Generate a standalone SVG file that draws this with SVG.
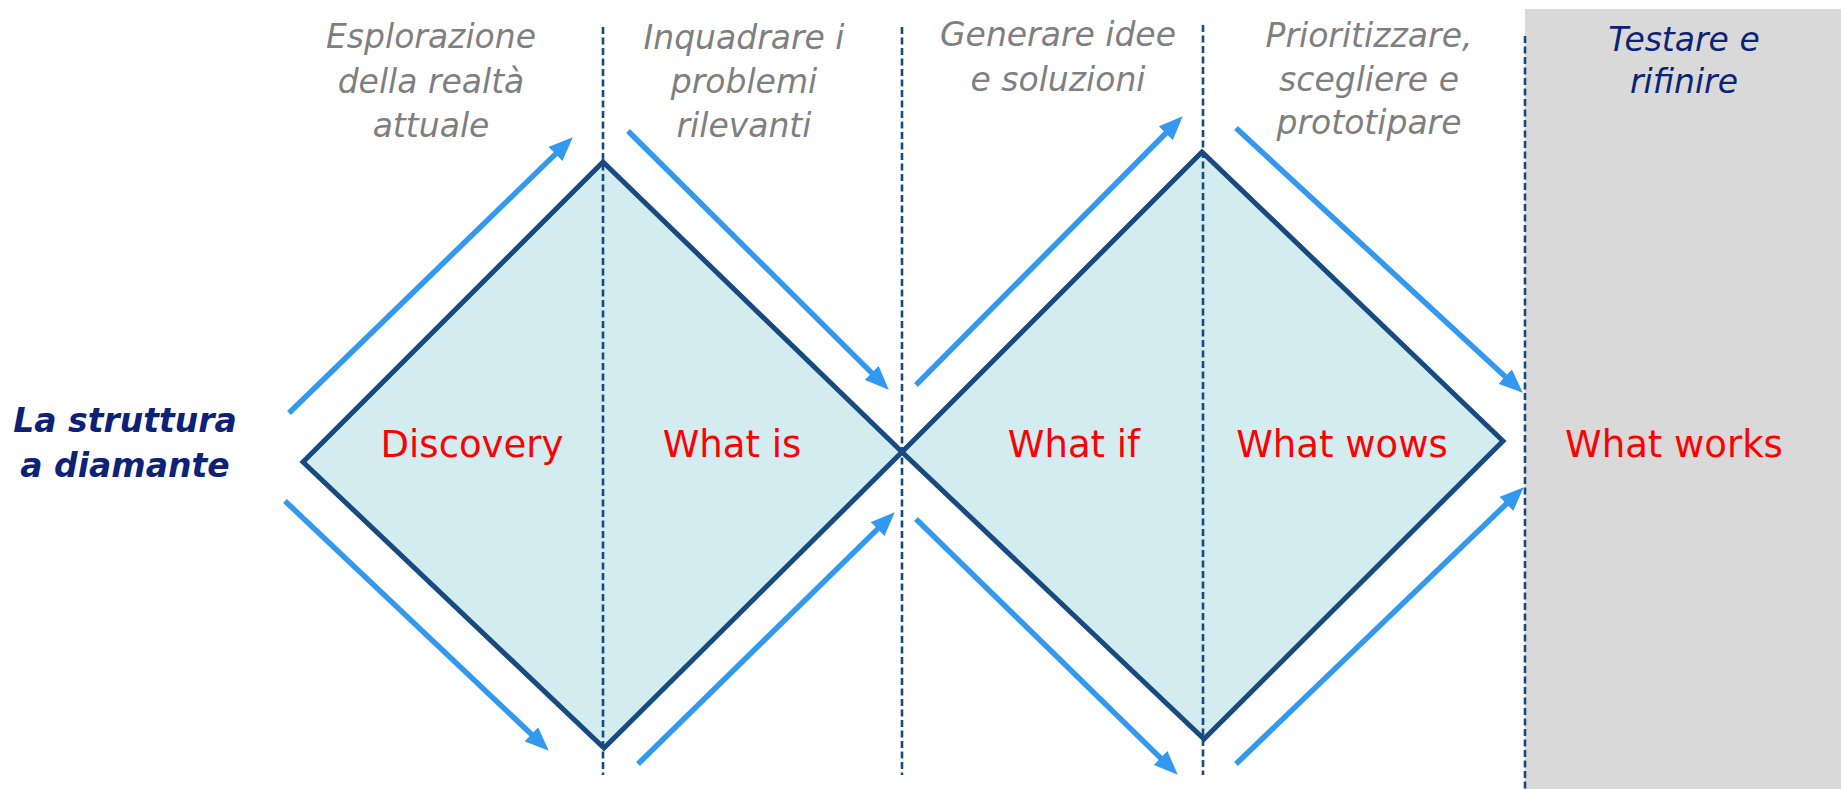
<svg xmlns="http://www.w3.org/2000/svg" width="1841" height="789" viewBox="0 0 1841 789">
<style>
.step{font-family:"DejaVu Sans",Verdana,sans-serif;font-style:italic;font-size:33px;fill:#7f7f7f;text-anchor:middle}
.test{font-family:"DejaVu Sans",Verdana,sans-serif;font-style:italic;font-size:33px;fill:#0c2277;text-anchor:middle}
.title{font-family:"DejaVu Sans",Verdana,sans-serif;font-style:italic;font-weight:bold;font-size:33px;fill:#0c2277;text-anchor:middle}
.lbl{font-family:"DejaVu Sans",Verdana,sans-serif;font-size:37px;fill:#ff0000;text-anchor:middle}
.dia{fill:#d3ecf0;stroke:#174a7e;stroke-width:5;stroke-linejoin:miter}
.dash{stroke:#174a7e;stroke-width:2.6;stroke-dasharray:7 3.5;fill:none}
.arr{stroke:#3399ee;stroke-width:5.5;fill:none;marker-end:url(#ah)}
</style>
<defs>
<marker id="ah" markerUnits="userSpaceOnUse" markerWidth="24" markerHeight="20" refX="10" refY="9" orient="auto" viewBox="0 0 22 18">
<path d="M0,0 L22,9 L0,18 z" fill="#3399ee"/>
</marker>
</defs>
<rect x="0" y="0" width="1841" height="789" fill="#ffffff"/>
<rect id="test-area" x="1525" y="9" width="316" height="780" fill="#d9d9d9"/>
<g id="diamond-1">
<polygon class="dia" points="303,462 603,162 902,452 604,748"/>
</g>
<g id="diamond-2">
<polygon class="dia" points="902,452 1202,152 1503,441 1204,739"/>
</g>
<g id="dividers">
<line class="dash" x1="603" y1="27" x2="603" y2="775"/>
<line class="dash" x1="902" y1="27" x2="902" y2="775"/>
<line class="dash" x1="1203" y1="25" x2="1203" y2="775"/>
<line class="dash" x1="1525" y1="36" x2="1525" y2="789"/>
</g>
<g id="connectors">
<line class="arr" x1="289" y1="413" x2="563.4" y2="146.4"/>
<line class="arr" x1="285" y1="501" x2="539.3" y2="741.8"/>
<line class="arr" x1="628" y1="131" x2="879.5" y2="380.6"/>
<line class="arr" x1="638" y1="764" x2="885.4" y2="521.4"/>
<line class="arr" x1="916" y1="385" x2="1173.5" y2="125.5"/>
<line class="arr" x1="916" y1="519" x2="1168.4" y2="765.6"/>
<line class="arr" x1="1236" y1="128" x2="1513.2" y2="383.9"/>
<line class="arr" x1="1236" y1="764" x2="1514.3" y2="496.3"/>
</g>
<g id="title">
<text class="title" x="125" y="432">La struttura</text>
<text class="title" x="125" y="477">a diamante</text>
</g>
<g id="step-1">
<text class="step" x="431" y="48">Esplorazione</text>
<text class="step" x="431" y="93">della realtà</text>
<text class="step" x="431" y="137">attuale</text>
</g>
<g id="step-2">
<text class="step" x="744" y="49">Inquadrare i</text>
<text class="step" x="744" y="93">problemi</text>
<text class="step" x="744" y="137">rilevanti</text>
</g>
<g id="step-3">
<text class="step" x="1058" y="46">Generare idee</text>
<text class="step" x="1058" y="91">e soluzioni</text>
</g>
<g id="step-4">
<text class="step" x="1369" y="47">Prioritizzare,</text>
<text class="step" x="1369" y="91">scegliere e</text>
<text class="step" x="1369" y="134">prototipare</text>
</g>
<g id="step-5">
<text class="test" x="1684" y="51">Testare e</text>
<text class="test" x="1684" y="93">rifinire</text>
</g>
<g id="labels">
<text class="lbl" x="472" y="457">Discovery</text>
<text class="lbl" x="732" y="457">What is</text>
<text class="lbl" x="1074" y="457">What if</text>
<text class="lbl" x="1342" y="457">What wows</text>
<text class="lbl" x="1674" y="457">What works</text>
</g>
</svg>
